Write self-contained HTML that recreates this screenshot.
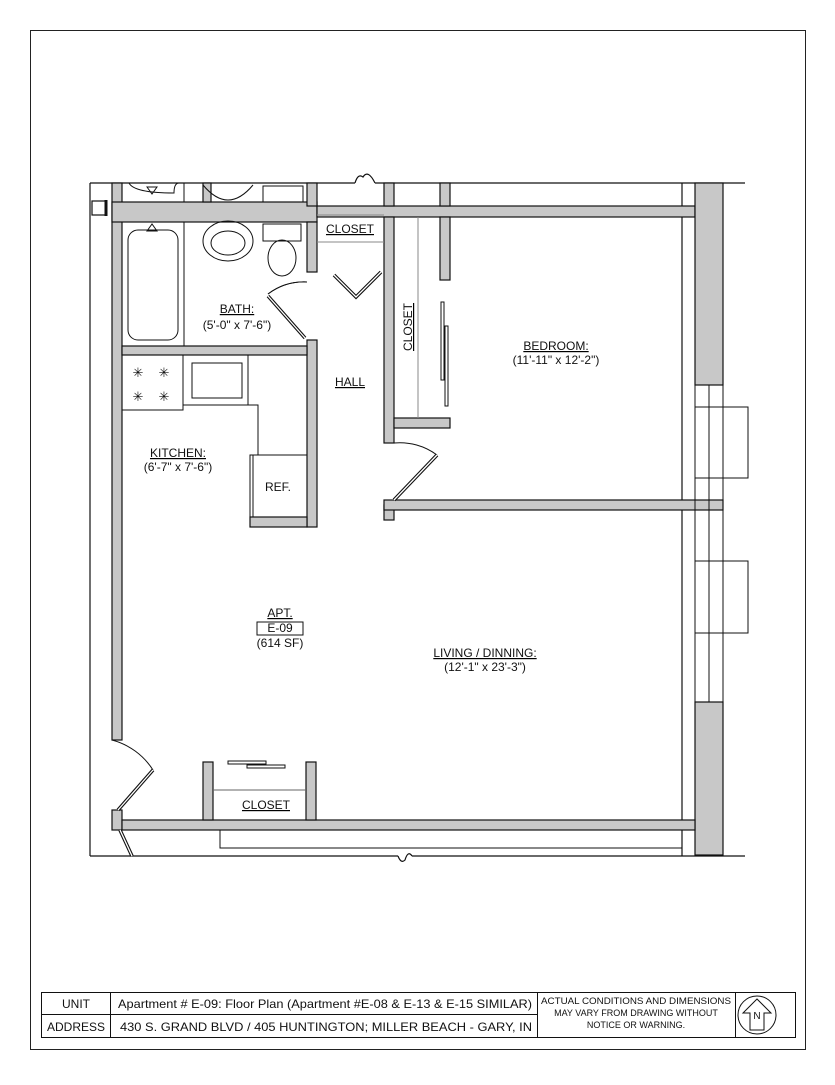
<!DOCTYPE html>
<html><head><meta charset="utf-8"><style>
body{margin:0;background:#fff}
svg text{font-family:"Liberation Sans",Arial,sans-serif;fill:#111}
.dr{stroke:#111;stroke-width:3.5}
.dw{stroke:#fff;stroke-width:1.3}
</style></head><body>
<svg width="835" height="1080" viewBox="0 0 835 1080" xmlns="http://www.w3.org/2000/svg">
<rect x="30.5" y="30.5" width="775" height="1019" fill="none" stroke="#222" stroke-width="1"/>
<g stroke="#111" stroke-width="1.2" fill="#c8c8c8">
<line x1="90" y1="183" x2="355" y2="183" fill="none"/>
<path d="M355 183 q3 -10 8 -6 q5 -8 12 6" fill="none"/>
<line x1="375" y1="183" x2="745" y2="183" fill="none"/>
<line x1="90" y1="183" x2="90" y2="856" fill="none"/>
<line x1="90" y1="856" x2="398" y2="856" fill="none"/>
<path d="M398 856 q3 8 7 4 q3 -10 7 -4" fill="none"/>
<line x1="412" y1="856" x2="745" y2="856" fill="none"/>
<line x1="682" y1="183" x2="682" y2="856" fill="none"/>
<rect x="92" y="201" width="14" height="14" fill="#fff"/>
<line x1="106" y1="200" x2="106" y2="216" stroke-width="3"/>
<rect x="112" y="183" width="10" height="557"/>
<rect x="112" y="810" width="10" height="20"/>
<rect x="112" y="202" width="205" height="20"/>
<rect x="317" y="206" width="378" height="11"/>
<rect x="203" y="183" width="8" height="19"/>
<rect x="307" y="183" width="10" height="23"/>
<rect x="384" y="183" width="10" height="23"/>
<rect x="440" y="183" width="10" height="23"/>
<rect x="307" y="222" width="10" height="50"/>
<rect x="307" y="340" width="10" height="187"/>
<rect x="122" y="346" width="185" height="9"/>
<rect x="250" y="517" width="57" height="10"/>
<rect x="384" y="217" width="10" height="226"/>
<rect x="384" y="505" width="10" height="15"/>
<rect x="394" y="418" width="56" height="10"/>
<rect x="440" y="217" width="10" height="63"/>
<rect x="384" y="500" width="339" height="10"/>
<rect x="695" y="183" width="28" height="202"/>
<rect x="695" y="702" width="28" height="153"/>
<rect x="122" y="820" width="573" height="10"/>
<rect x="203" y="762" width="10" height="58"/>
<rect x="306" y="762" width="10" height="58"/>
</g>
<g stroke="#111" stroke-width="1" fill="none">
<rect x="695" y="385" width="28" height="317"/>
<line x1="709" y1="385" x2="709" y2="702"/>
<rect x="723" y="407" width="25" height="71"/>
<line x1="695" y1="407" x2="723" y2="407"/><line x1="695" y1="478" x2="723" y2="478"/>
<rect x="723" y="561" width="25" height="72"/>
<line x1="695" y1="561" x2="723" y2="561"/><line x1="695" y1="633" x2="723" y2="633"/>
<path d="M220 830 V848 H682"/>
<line x1="317" y1="215" x2="384" y2="215" stroke="#888"/>
<line x1="317" y1="242" x2="384" y2="242" stroke="#888"/>
<line x1="418" y1="217" x2="418" y2="418" stroke="#888"/>
<line x1="213" y1="790" x2="306" y2="790" stroke="#666"/>
<rect x="228" y="761" width="38" height="3"/>
<rect x="247" y="765" width="38" height="3"/>
<rect x="441" y="302" width="3" height="78"/>
<rect x="445" y="326" width="3" height="80"/>
<rect x="128" y="230" width="50" height="110" rx="10"/>
<rect x="122" y="222" width="62" height="124"/>
<path d="M147 231 l5 -7 l5 7 z"/>
<path d="M147 187 l5 7 l5 -7 z"/>
<path d="M129 183 q5 10 45 10 q0 -10 5 -10"/>
<line x1="184" y1="183" x2="184" y2="202"/>
<ellipse cx="228" cy="241" rx="25" ry="20"/>
<ellipse cx="228" cy="243" rx="17" ry="12"/>
<path d="M203 185 q25 30 50 0"/>
<rect x="263" y="224" width="38" height="17"/>
<ellipse cx="282" cy="258" rx="14" ry="18"/>
<rect x="263" y="186" width="40" height="16"/>
<path d="M307 282 A60 60 0 0 0 268 294"/>
<path d="M307 282 A60 60 0 0 0 268 294"/>
<path d="M394 443 A62 62 0 0 1 437 455"/>
<path d="M112 740 A70 70 0 0 1 153 770"/>
<rect x="122" y="355" width="61" height="55"/>
<rect x="183" y="355" width="65" height="50"/>
<rect x="192" y="363" width="50" height="35"/>
<path d="M183 405 H258 V455"/>
<rect x="250" y="455" width="57" height="62"/>
<line x1="253" y1="455" x2="253" y2="517"/>
</g>
<g fill="none">
<line class="dr" x1="268" y1="296" x2="305" y2="338"/><line class="dw" x1="268" y1="296" x2="305" y2="338"/>
<path class="dr" d="M334 275 l22 22 l25 -25"/><path class="dw" d="M334 275 l22 22 l25 -25"/>
<line class="dr" x1="437" y1="455" x2="394" y2="500"/><line class="dw" x1="437" y1="455" x2="394" y2="500"/>
<line class="dr" x1="153" y1="770" x2="118" y2="810"/><line class="dw" x1="153" y1="770" x2="118" y2="810"/>
<line class="dr" x1="120" y1="830" x2="132" y2="856"/><line class="dw" x1="120" y1="830" x2="132" y2="856"/>
</g>
<g fill="#111" font-size="13" text-anchor="middle">
<text x="138" y="377">✳</text><text x="164" y="377">✳</text>
<text x="138" y="401">✳</text><text x="164" y="401">✳</text>
</g>
<g font-size="12" text-anchor="middle" text-decoration="underline" font-weight="500">
<text x="350" y="233">CLOSET</text>
<text x="237" y="313">BATH:</text>
<text x="350" y="386">HALL</text>
<text x="178" y="457">KITCHEN:</text>
<text x="556" y="350">BEDROOM:</text>
<text x="280" y="617" text-decoration="none">APT.</text>
<text x="485" y="657">LIVING / DINNING:</text>
<text x="266" y="809">CLOSET</text>
<text transform="translate(412,327) rotate(-90)">CLOSET</text>
</g>
<g font-size="12" text-anchor="middle">
<text x="237" y="329">(5'-0" x 7'-6")</text>
<text x="178" y="471">(6'-7" x 7'-6")</text>
<text x="278" y="491">REF.</text>
<text x="556" y="364">(11'-11" x 12'-2")</text>
<text x="280" y="632">E-09</text>
<text x="280" y="647">(614 SF)</text>
<text x="485" y="671">(12'-1" x 23'-3")</text>
</g>
<rect x="257" y="622" width="46" height="13" fill="none" stroke="#111"/>
<g stroke="#111" stroke-width="1" fill="none">
<rect x="41.5" y="992.5" width="754" height="45"/>
<line x1="41" y1="1014.5" x2="537" y2="1014.5"/>
<line x1="110.5" y1="992" x2="110.5" y2="1037"/>
<line x1="537.5" y1="992" x2="537.5" y2="1037"/>
<line x1="735.5" y1="992" x2="735.5" y2="1037"/>
<circle cx="757" cy="1015" r="19"/>
<path d="M757 999 L743 1013 H750 V1030 H764 V1013 H771 Z"/>
</g>
<text x="757" y="1019" font-size="10" text-anchor="middle">N</text>
<g font-size="12">
<text x="76" y="1008" text-anchor="middle">UNIT</text>
<text x="76" y="1031" text-anchor="middle">ADDRESS</text>
<text x="118" y="1008" textLength="414" lengthAdjust="spacingAndGlyphs">Apartment # E-09: Floor Plan (Apartment #E-08 &amp; E-13 &amp; E-15 SIMILAR)</text>
<text x="120" y="1031" textLength="412" lengthAdjust="spacingAndGlyphs">430 S. GRAND BLVD / 405 HUNTINGTON; MILLER BEACH - GARY, IN</text>
</g>
<g font-size="9" text-anchor="middle">
<text x="636" y="1004" textLength="190" lengthAdjust="spacingAndGlyphs">ACTUAL  CONDITIONS AND DIMENSIONS</text>
<text x="636" y="1016">MAY VARY FROM DRAWING WITHOUT</text>
<text x="636" y="1028">NOTICE OR WARNING.</text>
</g>
</svg>
</body></html>
